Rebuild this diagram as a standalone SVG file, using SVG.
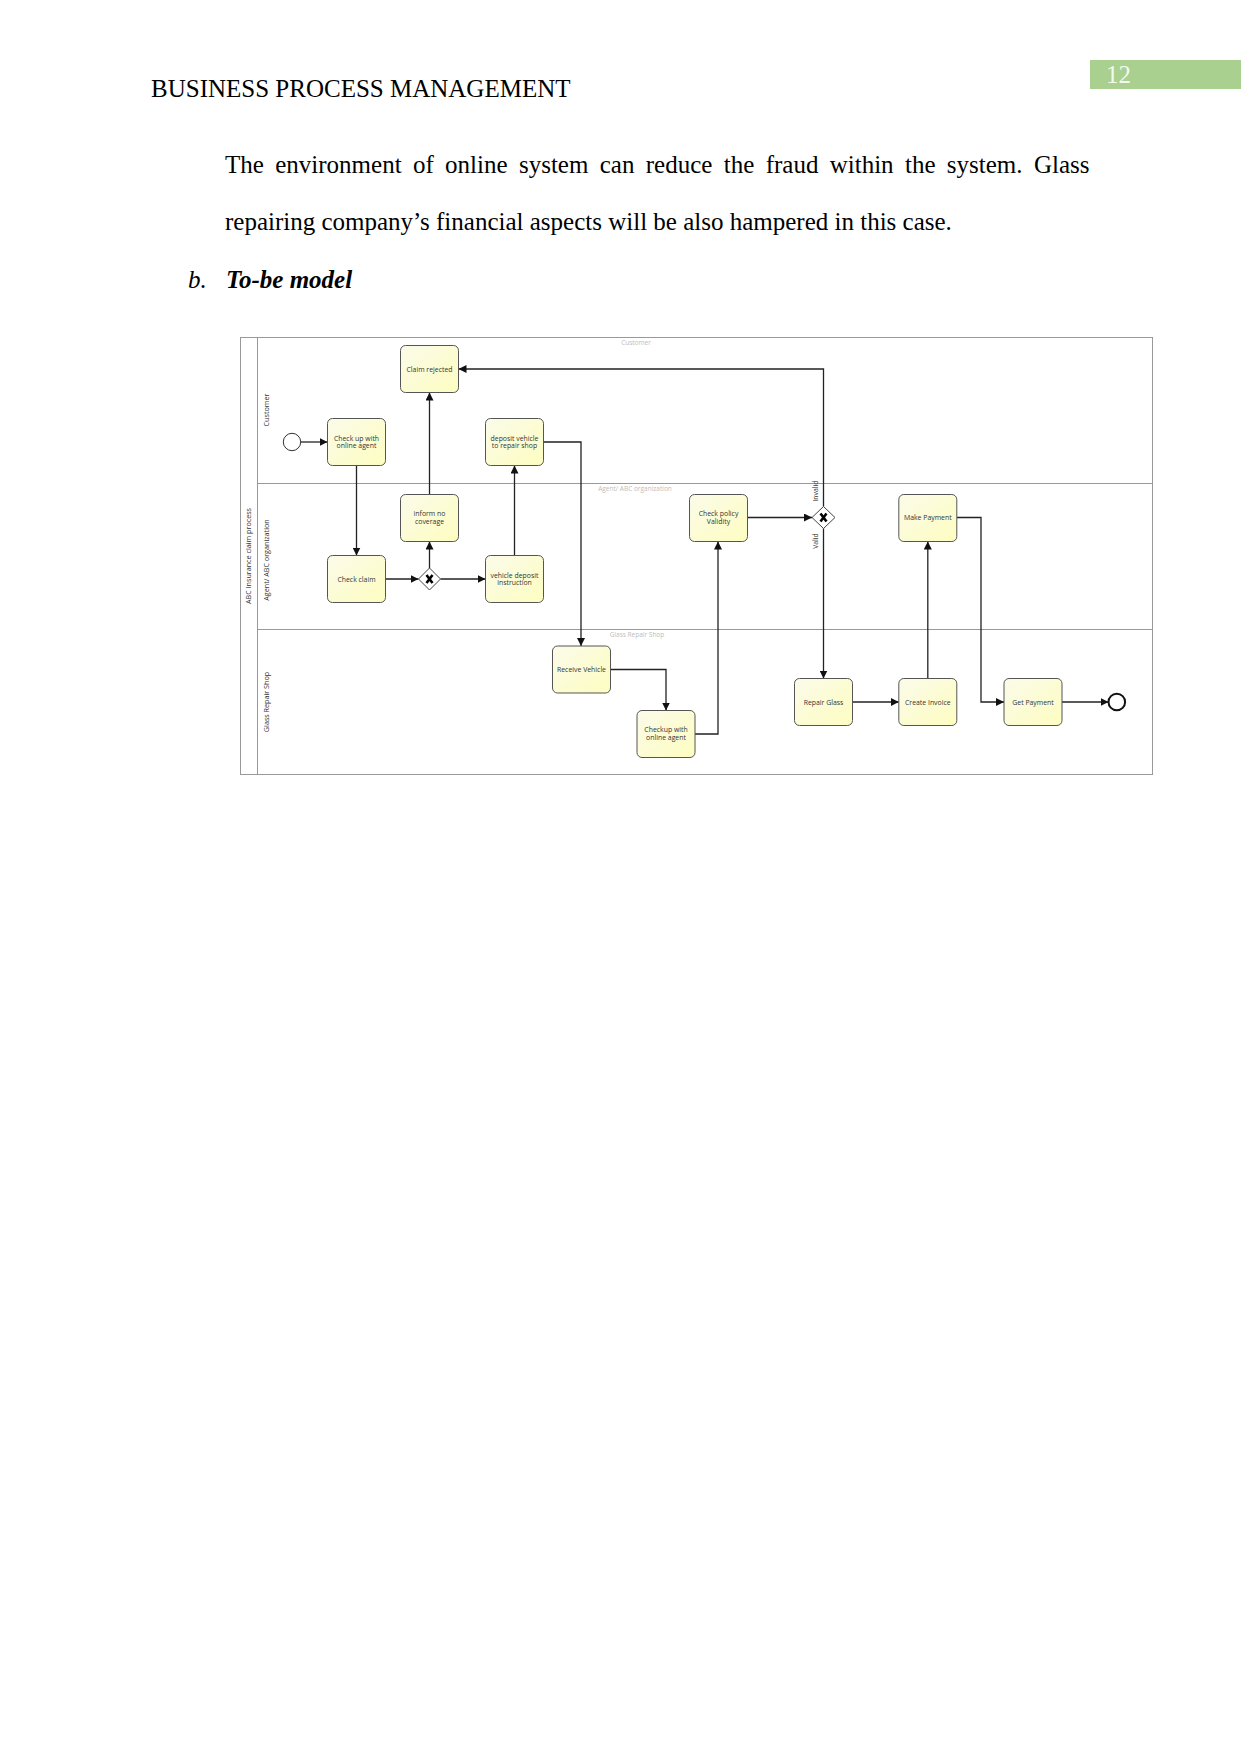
<svg xmlns="http://www.w3.org/2000/svg" width="1241" height="1754" viewBox="0 0 1241 1754">
<defs>
<linearGradient id="taskFill" x1="0" y1="0" x2="1" y2="1">
<stop offset="0" stop-color="#fbfbea"/>
<stop offset="1" stop-color="#fdfdc0"/>
</linearGradient>
<marker id="arr" viewBox="0 0 10 10" refX="10" refY="5" markerWidth="8" markerHeight="8" markerUnits="userSpaceOnUse" orient="auto">
<path d="M0,0 L10,5 L0,10 z" fill="#111"/>
</marker>
<style>
.page{font-family:"Liberation Serif","Times New Roman",serif;font-size:25px;fill:#000}
.task rect{fill:url(#taskFill);stroke:#555;stroke-width:1}
.task text,.lbl{font-family:"Open Sans","Noto Sans",sans-serif;font-size:6.9px;fill:#333;text-anchor:middle}
.lane{font-family:"Open Sans","Noto Sans",sans-serif;font-size:7.2px;fill:#333;text-anchor:middle}
.faint{font-family:"Open Sans","Noto Sans",sans-serif;font-size:6.5px;fill:#bdbdbd;text-anchor:middle}
.pool{fill:none;stroke:#999;stroke-width:1}
.conn path{fill:none;stroke:#222;stroke-width:1.3;marker-end:url(#arr)}
.gw path.d{fill:#fff;stroke:#444;stroke-width:1}
.gw path.x{fill:none;stroke:#000;stroke-width:2.6}
</style>
</defs>
<rect width="1241" height="1754" fill="#fff"/>

<!-- page header and text -->
<text class="page" x="151" y="97">BUSINESS PROCESS MANAGEMENT</text>
<rect x="1090" y="60" width="151" height="29" fill="#a9d08e"/>
<text class="page" x="1106" y="83" style="fill:#f4f9ef">12</text>
<text class="page" x="225" y="173" word-spacing="5.1">The environment of online system can reduce the fraud within the system. Glass</text>
<text class="page" x="225" y="230">repairing company’s financial aspects will be also hampered in this case.</text>
<text class="page" x="188" y="288" font-style="italic">b.</text>
<text class="page" x="226" y="288" font-style="italic" font-weight="bold">To-be model</text>

<!-- pool and lanes -->
<g id="pool">
<rect class="pool" x="240.5" y="337.5" width="912" height="437"/>
<line class="pool" x1="257.5" y1="337.5" x2="257.5" y2="774.5"/>
<line class="pool" x1="257.5" y1="483.5" x2="1152.5" y2="483.5"/>
<line class="pool" x1="257.5" y1="629.5" x2="1152.5" y2="629.5"/>
<text class="lane" transform="translate(250.5,556) rotate(-90)">ABC Insurance claim process</text>
<text class="lane" transform="translate(268.5,410) rotate(-90)">Customer</text>
<text class="lane" transform="translate(268.5,560) rotate(-90)">Agent/ ABC organization</text>
<text class="lane" transform="translate(268.5,702) rotate(-90)">Glass Repair Shop</text>
<text class="faint" x="636" y="345">Customer</text>
<text class="faint" x="635" y="491">Agent/ ABC organization</text>
<text class="faint" x="637" y="637">Glass Repair Shop</text>
</g>

<!-- connectors -->
<g id="connectors" class="conn">
<path d="M300.7,442 H327.5"/>
<path d="M356.5,465.5 V555.5"/>
<path d="M385.5,579 H418.5"/>
<path d="M429.5,568 V541.5"/>
<path d="M440.5,579 H485.5"/>
<path d="M429.5,494.5 V392.5"/>
<path d="M514.5,555.5 V465.5"/>
<path d="M543.5,442 H581 V646"/>
<path d="M610.5,669.5 H666 V710.5"/>
<path d="M695,734 H718 V541.5"/>
<path d="M747.5,517.5 H812"/>
<path d="M823.5,506.5 V369 H458.5"/>
<path d="M823.5,528.5 V678.5"/>
<path d="M852.5,702 H898.8"/>
<path d="M927.8,678.5 V541.5"/>
<path d="M957,517.5 H981 V702 H1004"/>
<path d="M1062,702 H1108.5"/>
</g>
<text class="lbl" transform="translate(818,491) rotate(-90)">Invalid</text>
<text class="lbl" transform="translate(818,541) rotate(-90)">Valid</text>

<!-- events -->
<g id="start"><circle cx="292" cy="442" r="8.7" fill="#fff" stroke="#333" stroke-width="1"/></g>
<g id="end"><circle cx="1116.8" cy="702" r="8.3" fill="#fff" stroke="#111" stroke-width="2"/></g>

<!-- gateways -->
<g id="gw1" class="gw">
<path class="d" d="M429.5,568 L440.5,579 L429.5,590 L418.5,579 z"/>
<path class="x" d="M426.5,575 L432.5,583 M432.5,575 L426.5,583"/>
</g>
<g id="gw2" class="gw">
<path class="d" d="M823.5,506.5 L835,517.5 L823.5,528.5 L812,517.5 z"/>
<path class="x" d="M820.5,513.5 L826.5,521.5 M826.5,513.5 L820.5,521.5"/>
</g>

<!-- tasks -->
<g id="claim-rejected" class="task"><rect x="400.5" y="345.5" width="58" height="47" rx="5"/><text x="429.5" y="371.5">Claim rejected</text></g>
<g id="check-up" class="task"><rect x="327.5" y="418.5" width="58" height="47" rx="5"/><text x="356.5" y="440.8">Check up with</text><text x="356.5" y="448.2">online agent</text></g>
<g id="deposit-vehicle" class="task"><rect x="485.5" y="418.5" width="58" height="47" rx="5"/><text x="514.5" y="440.8">deposit vehicle</text><text x="514.5" y="448.2">to repair shop</text></g>
<g id="inform-no-coverage" class="task"><rect x="400.5" y="494.5" width="58" height="47" rx="5"/><text x="429.5" y="516.3">inform no</text><text x="429.5" y="523.7">coverage</text></g>
<g id="check-claim" class="task"><rect x="327.5" y="555.5" width="58" height="47" rx="5"/><text x="356.5" y="581.5">Check claim</text></g>
<g id="vehicle-deposit-instruction" class="task"><rect x="485.5" y="555.5" width="58" height="47" rx="5"/><text x="514.5" y="577.8">vehicle deposit</text><text x="514.5" y="585.2">instruction</text></g>
<g id="check-policy" class="task"><rect x="689.5" y="494.5" width="58" height="47" rx="5"/><text x="718.5" y="516.3">Check policy</text><text x="718.5" y="523.7">Validity</text></g>
<g id="make-payment" class="task"><rect x="898.8" y="494.5" width="58" height="47" rx="5"/><text x="927.8" y="520">Make Payment</text></g>
<g id="receive-vehicle" class="task"><rect x="552.5" y="646" width="58" height="47" rx="5"/><text x="581.5" y="672">Receive Vehicle</text></g>
<g id="checkup-online" class="task"><rect x="637" y="710.5" width="58" height="47" rx="5"/><text x="666" y="732.3">Checkup with</text><text x="666" y="739.7">online agent</text></g>
<g id="repair-glass" class="task"><rect x="794.5" y="678.5" width="58" height="47" rx="5"/><text x="823.5" y="704.5">Repair Glass</text></g>
<g id="create-invoice" class="task"><rect x="898.8" y="678.5" width="58" height="47" rx="5"/><text x="927.8" y="704.5">Create Invoice</text></g>
<g id="get-payment" class="task"><rect x="1004" y="678.5" width="58" height="47" rx="5"/><text x="1033" y="704.5">Get Payment</text></g>
</svg>
